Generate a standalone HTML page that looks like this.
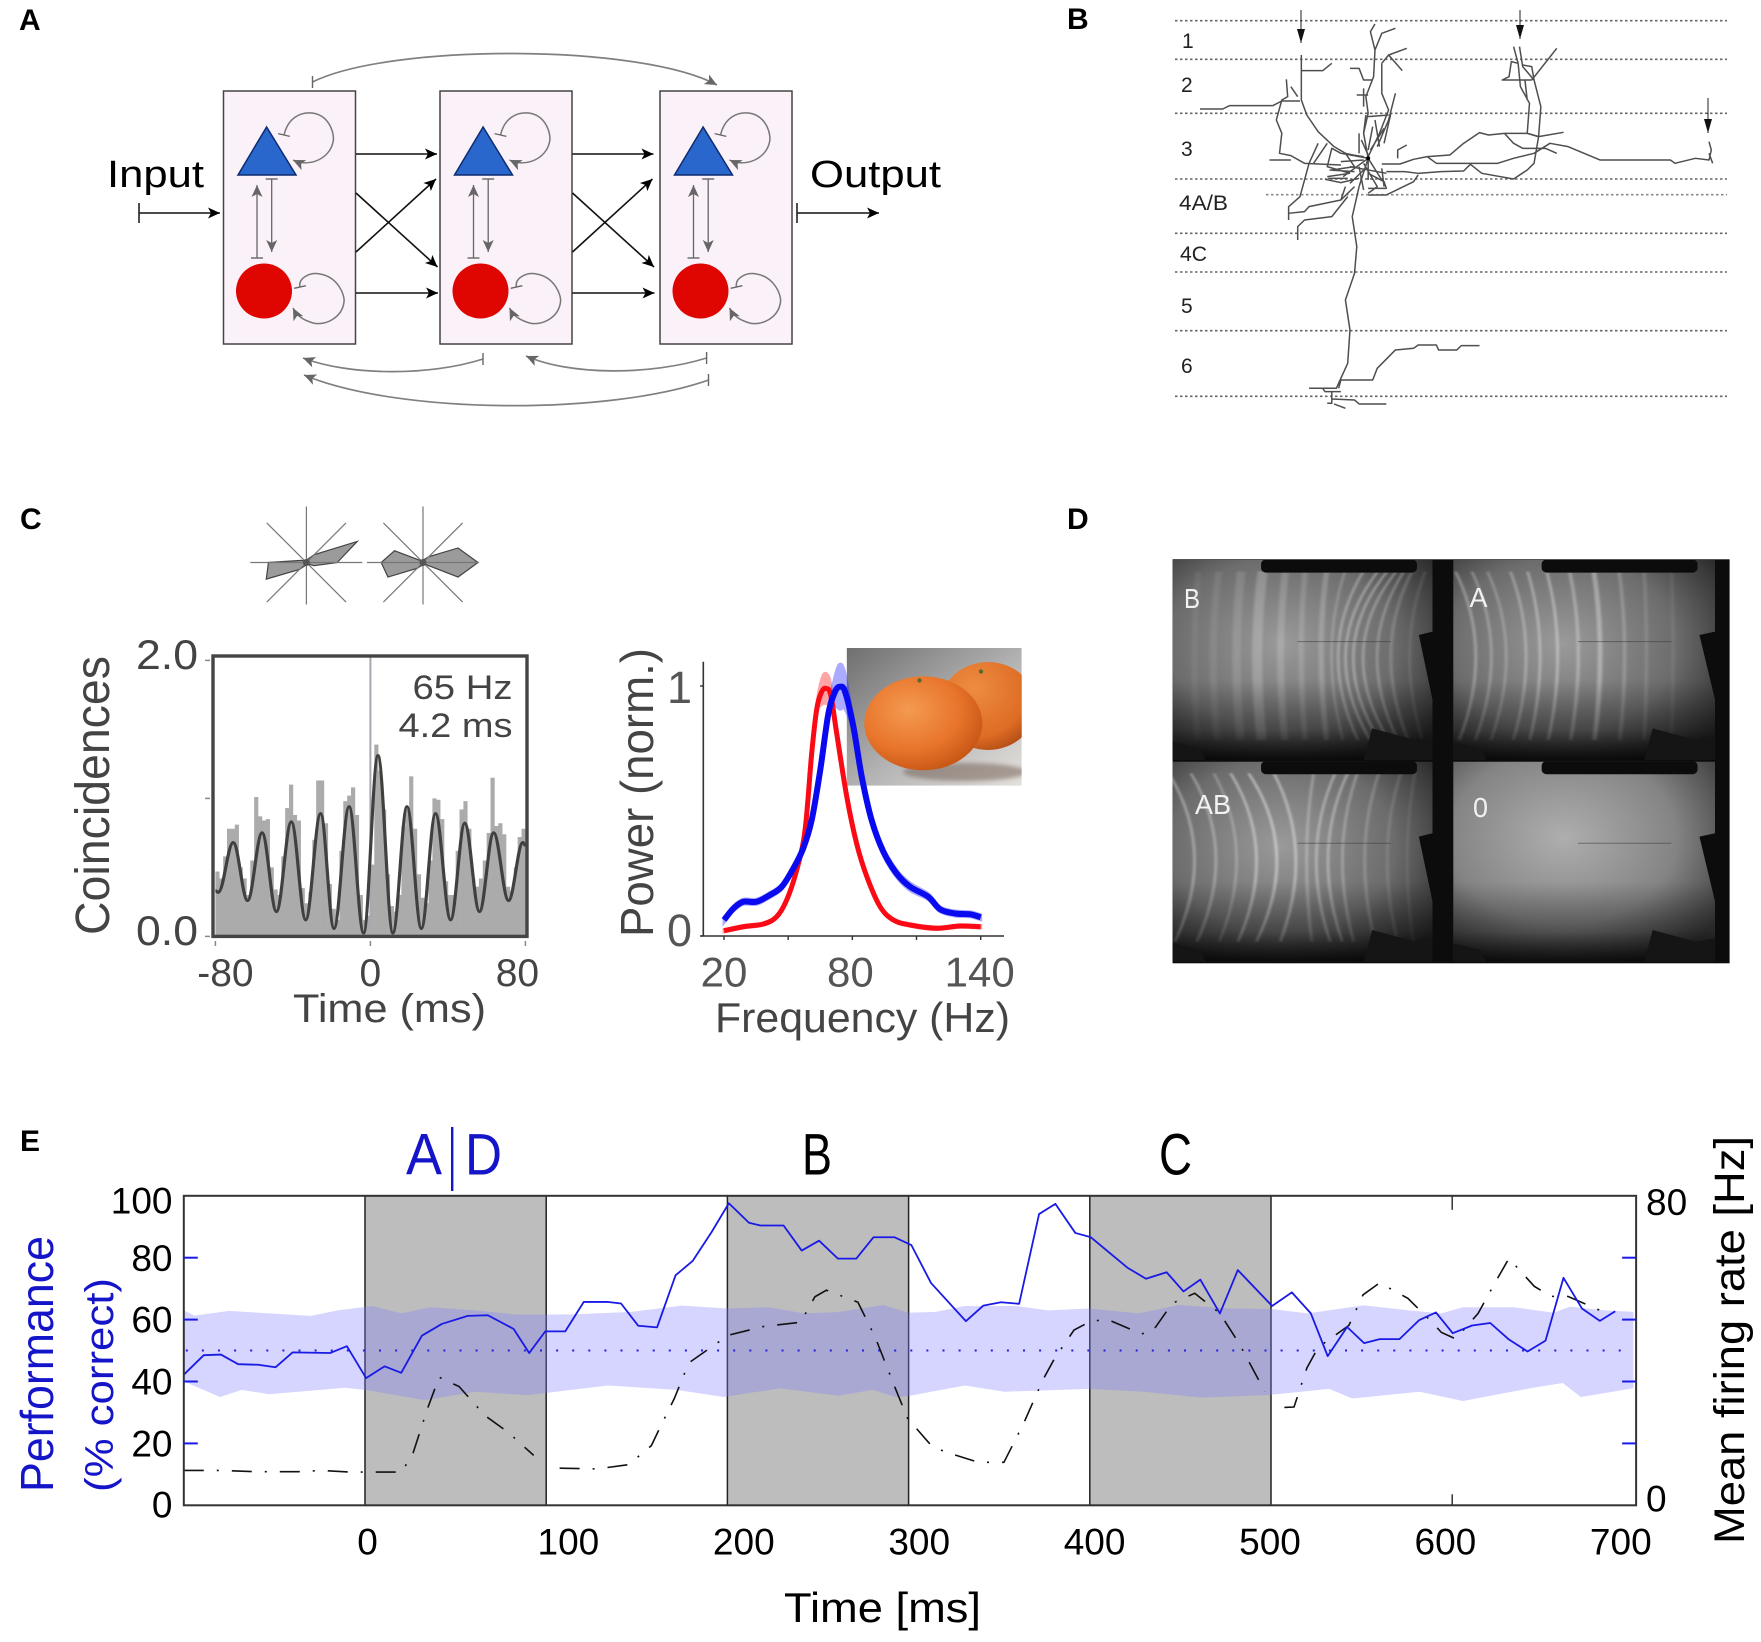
<!DOCTYPE html>
<html lang="en">
<head>
<meta charset="utf-8">
<title>Multi-panel neuroscience figure</title>
<style>
html,body{margin:0;padding:0;background:#fff;}
svg{display:block;font-family:"Liberation Sans",sans-serif;}
</style>
</head>
<body>
<svg id="fig" xmlns="http://www.w3.org/2000/svg" width="1761" height="1642" viewBox="0 0 1761 1642">
<defs>
  <marker id="ah-black" markerUnits="userSpaceOnUse" markerWidth="14" markerHeight="12" refX="12" refY="6" orient="auto"><path d="M0,0.5 L12,6 L0,11.5 L3,6 Z" fill="#000"/></marker>
  <marker id="ah-gray" markerUnits="userSpaceOnUse" markerWidth="14" markerHeight="12" refX="12" refY="6" orient="auto"><path d="M0,0.5 L12,6 L0,11.5 L3,6 Z" fill="#666"/></marker>
  <marker id="tee-gray" markerUnits="userSpaceOnUse" markerWidth="4" markerHeight="14" refX="2" refY="7" orient="auto"><path d="M2,1 L2,13" stroke="#666" stroke-width="1.4"/></marker>
  <marker id="tee-vertical" markerUnits="userSpaceOnUse" markerWidth="4" markerHeight="14" refX="2" refY="7" orient="0"><path d="M2,1 L2,13" stroke="#666" stroke-width="1.4"/></marker>
  <marker id="tee-black" markerUnits="userSpaceOnUse" markerWidth="4" markerHeight="22" refX="2" refY="11" orient="auto"><path d="M2,1 L2,21" stroke="#222" stroke-width="1.6"/></marker>
  <marker id="ah-narrow" markerUnits="userSpaceOnUse" markerWidth="10" markerHeight="16" refX="4" refY="14" orient="0"><path d="M0,0 L8,0 L4,14 Z" fill="#111"/></marker>
  <g id="cell">
    <rect x="223.5" y="91" width="132" height="253" fill="#fbf1f9" stroke="#444" stroke-width="1.5"/>
    <path d="M266.6,127 L296,175 L238,175 Z" fill="#2a67cc" stroke="#0c2c70" stroke-width="1.5"/>
    <ellipse cx="264" cy="291" rx="28" ry="27.5" fill="#df0500"/>
    <path d="M284,135 C288,118 300,112 312,113 C330,115 335,135 333,142 C330,158 310,168 293,160" fill="none" stroke="#777" stroke-width="1.5" marker-start="url(#tee-gray)" marker-end="url(#ah-gray)"/>
    <path d="M300,287 C298,278 310,272 320,274 C338,277 345,295 344,302 C342,318 325,326 313,323 C303,320 297,316 293,308" fill="none" stroke="#777" stroke-width="1.5" marker-start="url(#tee-gray)" marker-end="url(#ah-gray)"/>
    <path d="M257,258 L257,185" fill="none" stroke="#666" stroke-width="1.3" marker-start="url(#tee-gray)" marker-end="url(#ah-gray)"/>
    <path d="M271.7,179 L271.7,252" fill="none" stroke="#666" stroke-width="1.3" marker-start="url(#tee-gray)" marker-end="url(#ah-gray)"/>
  </g>
  <g id="links" fill="none" stroke="#111" stroke-width="1.6">
    <path d="M356,154 L437,154" marker-end="url(#ah-black)"/>
    <path d="M356,293 L438,293" marker-end="url(#ah-black)"/>
    <path d="M356,193 L437.5,267" marker-end="url(#ah-black)"/>
    <path d="M356,252 L436,179" marker-end="url(#ah-black)"/>
  </g>
  <filter id="soft" x="-5%" y="-5%" width="110%" height="110%"><feGaussianBlur stdDeviation="3.2 2.4"/></filter>
  <filter id="softer" x="-20%" y="-20%" width="140%" height="140%"><feGaussianBlur stdDeviation="2"/></filter>
  <filter id="trace-blur" x="-2%" y="-2%" width="104%" height="104%"><feGaussianBlur stdDeviation="0.8 0.9"/></filter>
  <radialGradient id="d-glow" cx="42%" cy="42%" r="72%"><stop offset="0" stop-color="#9a9a9a"/><stop offset=".6" stop-color="#6c6c6c"/><stop offset="1" stop-color="#2a2a2a"/></radialGradient>
  <radialGradient id="d-glow-0" cx="42%" cy="38%" r="72%"><stop offset="0" stop-color="#aeaeae"/><stop offset=".6" stop-color="#848484"/><stop offset="1" stop-color="#3c3c3c"/></radialGradient>
  <linearGradient id="d-fade" x1="0" y1="0" x2="0" y2="1"><stop offset=".6" stop-color="#000" stop-opacity="0"/><stop offset=".85" stop-color="#000" stop-opacity=".35"/><stop offset="1" stop-color="#000" stop-opacity=".85"/></linearGradient>
  <linearGradient id="photo-bg" x1="0" y1="0" x2="1" y2="1"><stop offset="0" stop-color="#6f6f6f"/><stop offset=".55" stop-color="#b5b5b5"/><stop offset="1" stop-color="#e4e0dc"/></linearGradient>
  <radialGradient id="orange-a" cx="38%" cy="36%" r="72%"><stop offset="0" stop-color="#f49a52"/><stop offset=".6" stop-color="#e8742a"/><stop offset="1" stop-color="#c25213"/></radialGradient>
  <radialGradient id="orange-b" cx="35%" cy="30%" r="80%"><stop offset="0" stop-color="#ee8c42"/><stop offset=".7" stop-color="#de6c24"/><stop offset="1" stop-color="#ab4712"/></radialGradient>
  <clipPath id="photo-clip"><rect x="846.7" y="648" width="175" height="137.7"/></clipPath>
  <clipPath id="corr-clip"><rect x="213" y="656" width="314" height="280.4"/></clipPath>
  <clipPath id="d-tl"><rect x="58" y="60" width="667" height="600"/></clipPath>
  <clipPath id="d-tr"><rect x="778" y="60" width="672" height="600"/></clipPath>
  <clipPath id="d-bl"><rect x="58" y="665" width="667" height="600"/></clipPath>
  <clipPath id="d-br"><rect x="778" y="665" width="672" height="600"/></clipPath>
</defs>

<rect width="1761" height="1642" fill="#fff"/>

<!-- Panel labels -->
<g font-weight="700" font-size="30" fill="#000">
  <text x="19" y="30">A</text>
  <text x="1067" y="29">B</text>
  <text x="20" y="529">C</text>
  <text x="1067" y="529">D</text>
  <text x="20" y="1151">E</text>
</g>

<!-- PANEL A -->
<g>
  <use href="#cell"/>
  <use href="#cell" x="216.5"/>
  <use href="#cell" x="436.5"/>
  <use href="#links"/>
  <use href="#links" x="216.5"/>
  <path d="M139,213 L220,213" fill="none" stroke="#111" stroke-width="1.6" marker-start="url(#tee-black)" marker-end="url(#ah-black)"/>
  <path d="M797,213 L879,213" fill="none" stroke="#111" stroke-width="1.6" marker-start="url(#tee-black)" marker-end="url(#ah-black)"/>
  <text x="107" y="187" font-size="38" textLength="97" lengthAdjust="spacingAndGlyphs" fill="#000">Input</text>
  <text x="810" y="187" font-size="38" textLength="131" lengthAdjust="spacingAndGlyphs" fill="#000">Output</text>
  <g fill="none" stroke="#808080" stroke-width="1.7">
    <path d="M312.5,82 C390,43.5 640,43.5 717,85" marker-start="url(#tee-vertical)" marker-end="url(#ah-gray)"/>
    <path d="M483,359 C430,376 350,376 303,358" marker-start="url(#tee-vertical)" marker-end="url(#ah-gray)"/>
    <path d="M706.6,358 C650,375.5 570,375.5 526,356" marker-start="url(#tee-vertical)" marker-end="url(#ah-gray)"/>
    <path d="M708.5,380 C610,415 400,415 304,375" marker-start="url(#tee-vertical)" marker-end="url(#ah-gray)"/>
  </g>
</g>

<!-- PANEL B -->
<g>
  <g stroke="#666" stroke-width="1.6" stroke-dasharray="2.5 2.5">
    <line x1="1175" x2="1727" y1="20.7" y2="20.7"/>
    <line x1="1175" x2="1727" y1="59.3" y2="59.3"/>
    <line x1="1175" x2="1727" y1="113.3" y2="113.3"/>
    <line x1="1175" x2="1727" y1="179" y2="179"/>
    <line x1="1266" x2="1727" y1="194.7" y2="194.7" stroke="#888"/>
    <line x1="1175" x2="1727" y1="233.3" y2="233.3"/>
    <line x1="1175" x2="1727" y1="272" y2="272"/>
    <line x1="1175" x2="1727" y1="330.7" y2="330.7"/>
    <line x1="1175" x2="1727" y1="396.3" y2="396.3"/>
  </g>
  <g font-size="21" fill="#222">
    <text x="1182" y="48">1</text>
    <text x="1181" y="92">2</text>
    <text x="1181" y="156">3</text>
    <text x="1179" y="210" textLength="49" lengthAdjust="spacingAndGlyphs">4A/B</text>
    <text x="1180" y="261" textLength="27" lengthAdjust="spacingAndGlyphs">4C</text>
    <text x="1181" y="313">5</text>
    <text x="1181" y="373">6</text>
  </g>
  <g transform="translate(1050,0) scale(0.4545,0.3333)" fill="none" stroke="#4e4e4e" stroke-width="1.5" stroke-linejoin="round">
    <path vector-effect="non-scaling-stroke" d="M330,327 L380,327 395,317 490,317 510,303 550,303"/>
    <path vector-effect="non-scaling-stroke" d="M553,165 L553,300 565,345 590,395 625,440 650,460 700,475"/>
    <path vector-effect="non-scaling-stroke" d="M553,212 L600,212 620,190"/>
    <path vector-effect="non-scaling-stroke" d="M520,238 L523,290 510,300 498,360 510,400 505,460 530,467 560,490 640,495"/>
    <path vector-effect="non-scaling-stroke" d="M530,260 L545,290 M483,480 L530,480"/>
    <path vector-effect="non-scaling-stroke" d="M700,475 L690,400 700,340 695,290 712,230 715,150 705,95 715,72 M715,150 L730,100 760,85 M730,190 L745,165 785,145 M745,165 L775,212 M660,205 L680,205 690,240 710,240"/>
    <path vector-effect="non-scaling-stroke" d="M730,190 L730,280 745,330 725,400 700,470 M760,280 L745,360 720,440 M675,285 L700,285 M690,265 L690,320 M680,400 L680,460 M700,350 L745,345 M735,385 L705,450 M715,360 L725,440 M695,345 L690,400 M750,340 L735,430 M710,380 L700,450 M685,420 L700,465"/>
    <path vector-effect="non-scaling-stroke" d="M700,475 L640,460 620,445 610,500 660,520 M610,530 L660,520 M605,538 L640,548 680,535 M700,475 L680,560 M700,475 L730,540 M650,460 L670,500 620,510 M690,490 L720,560 700,580 M730,505 L735,560 M700,475 L645,530 M700,475 L700,540 M640,485 L690,480 M660,500 L740,520 M690,510 L660,550 M640,460 L690,470 M615,510 L670,515 M612,535 L655,535 M700,520 L735,545 740,565 700,565 M680,500 L690,570"/>
    <path vector-effect="non-scaling-stroke" d="M670,560 L640,600 570,620 560,635 525,640 M650,560 L640,600 M655,590 L620,650 560,660 545,680 545,720 M590,430 L570,490 550,590 525,620 525,660 M610,430 L580,490"/>
    <path vector-effect="non-scaling-stroke" d="M730,492 L770,492 800,478 830,470 880,465 910,430 945,398 965,405 1000,400 1050,400 1075,410 1130,397"/>
    <path vector-effect="non-scaling-stroke" d="M830,470 L850,490 985,490 1020,475 1065,460 1100,430 1140,440 1210,480 1365,480 1375,490 1420,475 1450,480 1455,450 1450,425 M1450,460 L1458,490"/>
    <path vector-effect="non-scaling-stroke" d="M740,515 L780,515 810,520 860,515 910,513 925,493 950,520 1020,537 1050,510 1065,490 1075,410 1080,320 1065,240 1040,200 1033,140"/>
    <path vector-effect="non-scaling-stroke" d="M700,585 L740,585 770,565 800,545 810,525 M765,475 L765,450 785,435"/>
    <path vector-effect="non-scaling-stroke" d="M1000,400 L1020,430 1040,445 1090,445 1115,460 M1075,410 L1050,400 1055,310 1035,260 1030,190 1015,185 1010,230 995,240 1060,240 M1060,240 L1115,145 M1040,195 L1060,200 1065,240 M1020,140 L1030,190 M1045,240 L1050,300"/>
    <path vector-effect="non-scaling-stroke" d="M680,560 L665,650 675,740 670,820 650,900 660,990 655,1090 635,1150 630,1165 570,1165 M635,1165 L640,1140 710,1140 720,1105 760,1050 800,1045 810,1035 850,1035 855,1050 895,1050 905,1037 945,1037"/>
    <path vector-effect="non-scaling-stroke" d="M600,1165 L605,1175 640,1175 M620,1175 L620,1210 610,1210 M620,1197 L670,1200 680,1212 740,1212 M625,1212 L650,1225"/>
  </g>
  <circle cx="1368.2" cy="158.3" r="2" fill="#000"/>
  <g stroke="#222" stroke-width="1" fill="none">
    <path d="M1301,10 L1301,43" marker-end="url(#ah-narrow)"/>
    <path d="M1520,10 L1520,39" marker-end="url(#ah-narrow)"/>
    <path d="M1708,98 L1708,133" marker-end="url(#ah-narrow)"/>
  </g>
</g>

<!-- PANEL C: polar plots -->
<g id="polar-plots"></g>

<!-- PANEL C: correlogram -->
<g id="correlogram"></g>
<g fill="#444">
  <text x="412.5" y="699" font-size="34" textLength="100" lengthAdjust="spacingAndGlyphs">65 Hz</text>
  <text x="398.5" y="737" font-size="34" textLength="114" lengthAdjust="spacingAndGlyphs">4.2 ms</text>
  <text x="293" y="1022" font-size="40" textLength="193" lengthAdjust="spacingAndGlyphs">Time (ms)</text>
  <text transform="translate(109,935) rotate(-90)" font-size="48" textLength="279" lengthAdjust="spacingAndGlyphs">Coincidences</text>
</g>

<!-- PANEL C: power spectrum -->
<g clip-path="url(#photo-clip)">
  <rect x="846.7" y="648" width="175" height="137.7" fill="url(#photo-bg)"/>
  <ellipse cx="965" cy="772" rx="62" ry="9" fill="#6f5a50" opacity=".5" filter="url(#softer)"/>
  <ellipse cx="988" cy="706" rx="48" ry="44" fill="url(#orange-b)"/>
  <ellipse cx="923.3" cy="723.3" rx="59" ry="47" fill="url(#orange-a)"/>
  <circle cx="919.5" cy="680.5" r="2.2" fill="#5a6a2a"/>
  <circle cx="981" cy="671.5" r="2.2" fill="#5a6a2a"/>
</g>
<g id="spectrum"></g>
<g fill="#555">
  <text x="715" y="1032" font-size="42" textLength="295" lengthAdjust="spacingAndGlyphs" fill="#444">Frequency (Hz)</text>
  <text transform="translate(653,937) rotate(-90)" font-size="46" textLength="289" lengthAdjust="spacingAndGlyphs" fill="#444">Power (norm.)</text>
</g>

<!-- PANEL D -->
<g>
  <rect x="1172.6" y="559.3" width="557" height="404" fill="#0c0c0c"/>
  <g id="d-panels" transform="translate(1150,540) scale(0.3897,0.3333)"></g>
  <g fill="#f2f2f2" font-size="28">
    <text x="1184" y="608" textLength="16" lengthAdjust="spacingAndGlyphs">B</text>
    <text x="1469.5" y="607" textLength="18" lengthAdjust="spacingAndGlyphs">A</text>
    <text x="1195" y="814" textLength="36" lengthAdjust="spacingAndGlyphs">AB</text>
    <text x="1473" y="817" textLength="15" lengthAdjust="spacingAndGlyphs">0</text>
  </g>
</g>

<!-- PANEL E -->
<g id="timeline"></g>
<g font-size="58" fill="#000">
  <text x="406" y="1174.5" fill="#1414c8" textLength="36" lengthAdjust="spacingAndGlyphs">A</text>
  <rect x="451" y="1127" width="2.4" height="64" fill="#1414c8"/>
  <text x="465" y="1174.5" fill="#1414c8" textLength="37" lengthAdjust="spacingAndGlyphs">D</text>
  <text x="802" y="1174.5" textLength="30" lengthAdjust="spacingAndGlyphs">B</text>
  <text x="1159" y="1174.5" textLength="33" lengthAdjust="spacingAndGlyphs">C</text>
</g>
<text transform="translate(53,1492) rotate(-90)" font-size="46" fill="#1414c8" textLength="256" lengthAdjust="spacingAndGlyphs">Performance</text>
<text transform="translate(113,1492) rotate(-90)" font-size="40" fill="#1414c8" textLength="214" lengthAdjust="spacingAndGlyphs">(% correct)</text>
<text transform="translate(1744,1544) rotate(-90)" font-size="43" fill="#000" textLength="408" lengthAdjust="spacingAndGlyphs">Mean firing rate [Hz]</text>
<text x="784" y="1622" font-size="42" fill="#000" textLength="197" lengthAdjust="spacingAndGlyphs">Time [ms]</text>

<script>
// ---------- Panel C polar data ----------
const polarAngles = [0, 22.5, 45, 90, 135, 157.5, 180, 202.5, 225, 270, 315, 337.5];
const polarLeftValues = [0.56, 1, 0.2, 0.04, 0.04, 0.1, 0.69, 0.79, 0.18, 0.04, 0.04, 0.15];
const polarRightValues = [1, 0.69, 0.15, 0.04, 0.04, 0.56, 0.76, 0.69, 0.15, 0.04, 0.04, 0.69];
const spokeAngles = [0, 45, 135];

// ---------- Panel C correlogram data ----------
const binTimes = [-79,-77,-75,-73,-71,-69,-67,-65,-63,-61,-59,-57,-55,-53,-51,-49,-47,-45,-43,-41,-39,-37,-35,-33,-31,-29,-27,-25,-23,-21,-19,-17,-15,-13,-11,-9,-7,-5,-3,-1,1,3,5,7,9,11,13,15,17,19,21,23,25,27,29,31,33,35,37,39,41,43,45,47,49,51,53,55,57,59,61,63,65,67,69,71,73,75,77,79];
const binCounts = [.47,.42,.58,.78,.78,.81,.5,.42,.3,.55,1.01,.87,.84,.85,.5,.34,.3,.58,.93,1.1,.88,.84,.35,.24,.32,.7,1.13,1.13,.82,.38,.2,.12,.62,.98,1.02,1.08,.88,.3,.12,.15,.52,1.39,1.2,.92,.45,.22,.18,.3,.8,.92,1.16,.78,.45,.28,.24,.55,1.0,.99,.85,.4,.3,.3,.62,.92,.98,.78,.42,.36,.42,.55,.75,1.15,.8,.82,.74,.36,.33,.5,.72,.78];
const fitTimes = [-80,-78.5,-70.8,-63.4,-55.9,-48.5,-40.8,-33.4,-25.7,-18.8,-11,-3.5,3.9,11.6,18.9,26.3,33.6,41.4,48.7,56.3,63.6,71.3,78.7,80];
const fitValues = [.33,.32,.68,.26,.75,.18,.83,.12,.89,.057,.94,.025,1.31,.025,.94,.057,.89,.12,.82,.18,.75,.26,.68,.66];
const corrXTicks = [-80, 0, 80];
const corrXLabels = ['-80', '0', '80'];
const corrYTicks = [0, 1, 2];
const corrYLabels = ['0.0', '', '2.0'];

// ---------- Panel C spectrum data ----------
const blueFreq = [20,24.4,29,35.2,41.5,47,52.4,57,61,65,68.8,71.9,74.2,76.6,80.5,84.4,89,94.5,100.7,107,115.5,121,128,135,140];
const bluePower = [.064,.11,.137,.137,.164,.197,.27,.35,.464,.664,.89,.977,.997,.977,.837,.637,.464,.337,.25,.197,.157,.107,.09,.087,.075];
const blueError = [.01,.01,.01,.01,.01,.01,.01,.01,.01,.01,.02,.06,.09,.07,.02,.01,.01,.015,.015,.015,.012,.01,.01,.01,.01];
const redFreq = [20,29,38.4,44.6,49.3,54,57.9,61,63.4,65.7,67.7,69.9,72.7,77.4,82,86.8,93,99.2,107,119.4,130.3,140];
const redPower = [.021,.037,.048,.077,.144,.264,.424,.731,.91,.977,.99,.964,.81,.557,.37,.237,.117,.064,.044,.031,.04,.037];
const redError = [.005,.005,.005,.005,.005,.005,.01,.01,.02,.05,.06,.04,.01,.005,.005,.005,.005,.005,.005,.005,.005,.005];
const specXTicks = [20, 50, 80, 110, 140];
const specXLabels = ['20', '', '80', '', '140'];
const specYTicks = [0, 1];
const specYLabels = ['0', '1'];

// ---------- Panel E data ----------
const epochStarts = [0, 200, 400];
const epochLength = 100;
const perfTimes = [-100,-89,-79.5,-70,-59,-49.4,-40,-19.3,-10,.6,10.8,20,31.4,42.4,56.7,67.8,82,90.6,99.5,110.5,120.7,134.3,141.3,150.8,161.2,171.4,180.9,191.3,200.8,211.9,218.2,231,241,250.6,261,271.1,280.6,292.3,301.5,312.4,331.6,341.2,351,361,372,381,392,400.6,420.7,431,442.4,451.7,461,471.8,481.7,500.6,511.5,522,531.3,542,551.4,560,570.9,581.7,591,600.3,611,621,631,641.6,651.5,661.4,671.6,681.5,690];
const perfValues = [42.2,48.5,48.7,45.6,45.4,44.6,49.4,49.2,51.4,41.1,44.9,42.8,54.8,58.6,61.2,61.4,57,49.2,56.2,56.2,65.7,65.7,65.2,58,57.5,74.3,79,88.3,97.6,91.3,90.4,90.4,82.3,85.5,79.7,79.7,86.6,86.6,84.1,71.8,59.5,64.5,65.6,65.1,94.1,97.4,88,86.6,76.8,73.2,75.3,69.1,72.9,62,76,64.4,68.8,62,48.2,57.6,52.4,53.7,53.7,59.8,62.3,55.6,58.1,58.9,53.7,49.7,53.2,73.5,63.6,59.6,62.7];
const rateSegmentOneTimes = [-100,-79.5,-60.5,-36.7,-24,-8.2,20.3,26.6,34.5,40.9,51.9,66.2,78.9,93.1];
const rateSegmentOneHz = [9,9,8.7,8.7,9,8.6,8.6,13.6,25,33.1,30.7,23.2,18.9,12.9];
const rateSegmentTwoTimes = [107.4,128,145.4,158,162.8,170.7,178.7,194.5,200.8,219.8,240.4,248.3,254.7,272,281.6,292.7,299.4,312.4,320.1,338.7,352.6,363.5,374.3,380.5,391.3,400.6,409.9,428.5,434.7,445.5,457.9,471.8,482.7,496.6];
const rateSegmentTwoHz = [9.6,9.4,10.5,15.4,20.1,27.6,36.8,42,44,46.2,47.3,53.9,55.6,52.5,43.4,30.2,22.5,15.5,13.8,11.1,11.1,21.2,32.6,37.9,45.3,47.6,48,44.3,45,52.2,54.8,49.6,41.6,29.4];
const rateSegmentThreeTimes = [507.4,512.7,519.8,526,543,550.8,560,575.5,587.9,594,601.9,614.3,623.6,631.3,645.3,654.6,663.9,680.9,685.5];
const rateSegmentThreeHz = [25.3,25.4,35.5,40.8,46.5,54.4,57.5,53.5,47.8,44.7,43,49.6,57.5,63.8,56.6,54,54,50.5,47.8];
const bandUpperTimes = [-100,-94,-75,-53,-30,-15,4,20,36,61,84,115,147,175,200,223,242,261,286,300,315,331,359,377,400,427,449,476,501,520,551,576,594,606,634,656,665,684,700];
const bandUpperValues = [63,61.3,62.8,62,61.2,63,64.4,62,64,63,61.6,61.7,62.5,64.5,63.6,64,62,62.4,64.7,62.2,62.5,64.4,64.4,63,63.6,62,64.7,63.6,63.4,62,64.6,63,62,64,64,62.2,64.2,63,62.5];
const bandLowerTimes = [-100,-80,-68,-53,-11,1,33,61,90,134,172,198,229,261,280,293,300,331,353,400,430,461,498,532,545,582,606,641,661,671,700];
const bandLowerValues = [40,35,37.3,35.9,38,37.2,34,36.7,35.6,38.7,37.3,35,37.8,35.4,37.3,35,35.3,38.7,36.7,37.6,36.7,34.8,35.6,37.6,34.5,36.7,33.7,37.6,39.5,35,37.8];
const chanceLevel = 50;
const timeTicks = [0, 100, 200, 300, 400, 500, 600, 700];
const timeLabels = ['0', '100', '200', '300', '400', '500', '600', '700'];
const perfTicks = [0, 20, 40, 60, 80, 100];
const perfLabels = ['0', '20', '40', '60', '80', '100'];
const rateTicks = [0, 80];
const rateLabels = ['0', '80'];
const innerBlueTicks = [20, 40, 60, 80];
const innerBlackTimeTicks = [600];

// ---------- helpers ----------
const NS = 'http://www.w3.org/2000/svg';
function mk(parent, tag, attrs, txt) {
  const el = document.createElementNS(NS, tag);
  for (const k in attrs) el.setAttribute(k, attrs[k]);
  if (txt !== undefined) el.textContent = txt;
  parent.appendChild(el);
  return el;
}
function catmull(pts) {
  let d = 'M' + pts[0][0] + ',' + pts[0][1];
  for (let i = 0; i < pts.length - 1; i++) {
    const p0 = pts[Math.max(0, i - 1)], p1 = pts[i], p2 = pts[i + 1], p3 = pts[Math.min(pts.length - 1, i + 2)];
    const c1x = p1[0] + (p2[0] - p0[0]) / 6, c1y = p1[1] + (p2[1] - p0[1]) / 6;
    const c2x = p2[0] - (p3[0] - p1[0]) / 6, c2y = p2[1] - (p3[1] - p1[1]) / 6;
    d += ' C' + c1x + ',' + c1y + ' ' + c2x + ',' + c2y + ' ' + p2[0] + ',' + p2[1];
  }
  return d;
}
function polyline(xs, ys, fx, fy) {
  return xs.map((x, i) => (i ? 'L' : 'M') + fx(x) + ',' + fy(ys[i])).join(' ');
}

// ---------- polar plots ----------
(function () {
  const g = document.getElementById('polar-plots');
  const polarR = v => v * 55;
  const centers = [[306.4, 562.5], [423, 562.5]];
  const series = [polarLeftValues, polarRightValues];
  const spokeLen = 56;
  centers.forEach((c, ci) => {
    const pts = polarAngles.map((a, i) => {
      const r = polarR(series[ci][i]);
      const t = a * Math.PI / 180;
      return (c[0] + r * Math.cos(t)) + ',' + (c[1] - r * Math.sin(t));
    }).join(' ');
    const poly = mk(g, 'polygon', { points: pts, fill: '#9b9b9b', stroke: '#444', 'stroke-width': 1.2 });
    
    
    spokeAngles.forEach(a => {
      const t = a * Math.PI / 180;
      const ln = mk(g, 'line', {
        x1: c[0] - spokeLen * Math.cos(t), y1: c[1] + spokeLen * Math.sin(t),
        x2: c[0] + spokeLen * Math.cos(t), y2: c[1] - spokeLen * Math.sin(t),
        stroke: '#777', 'stroke-width': 1.2
      });
      
      
    });
    const vert = mk(g, 'line', { x1: c[0], x2: c[0], y1: c[1] - 56, y2: c[1] + 42, stroke: '#777', 'stroke-width': 1.2 });
    
    
    const hub = mk(g, 'circle', { cx: c[0], cy: c[1], r: 3.5, fill: '#555' });
    
    
  });
})();

// ---------- correlogram ----------
(function () {
  const g = document.getElementById('correlogram');
  const x = t => 370.4 + t * 1.9375;
  const y = v => 936.4 - v * 138;
  const clip = mk(g, 'g', { 'clip-path': 'url(#corr-clip)' });
  
  
  binTimes.forEach((t, i) => {
    const r = mk(clip, 'rect', { x: x(t - 1), y: y(binCounts[i]), width: x(t + 1) - x(t - 1) + .3, height: y(0) - y(binCounts[i]), fill: '#ababab' });
    
    
  });
  const zero = mk(clip, 'line', { x1: x(0), x2: x(0), y1: 656, y2: 936, stroke: '#a8a8b0', 'stroke-width': 2 });
  
  
  // smooth fit: horizontal tangents at the read extrema
  let d = 'M' + x(fitTimes[0]) + ',' + y(fitValues[0]);
  for (let i = 0; i < fitTimes.length - 1; i++) {
    const x0 = x(fitTimes[i]), x1 = x(fitTimes[i + 1]), h = (x1 - x0) * .36;
    d += ' C' + (x0 + h) + ',' + y(fitValues[i]) + ' ' + (x1 - h) + ',' + y(fitValues[i + 1]) + ' ' + x1 + ',' + y(fitValues[i + 1]);
  }
  const fit = mk(clip, 'path', { d: d, fill: 'none', stroke: '#404040', 'stroke-width': 3.2 });
  
  
  const box = mk(g, 'rect', { x: 213, y: 656, width: 314, height: 280.4, fill: 'none', stroke: '#444', 'stroke-width': 3.4 });
  
  
  corrYTicks.forEach((v, i) => {
    const tk = mk(g, 'line', { x1: 205, x2: 210, y1: y(v), y2: y(v), stroke: '#888', 'stroke-width': 1.5 });
    
    
    if (corrYLabels[i]) {
      const tx = mk(g, 'text', { x: 198, y: y(v) + 8.5, 'text-anchor': 'end', 'font-size': 42, fill: '#444', textLength: 62, lengthAdjust: 'spacingAndGlyphs' }, corrYLabels[i]);
      
      
    }
  });
  corrXTicks.forEach((v, i) => {
    const tk = mk(g, 'line', { x1: x(v), x2: x(v), y1: 941, y2: 946, stroke: '#888', 'stroke-width': 1.5 });
    
    
    const tx = mk(g, 'text', { x: x(v) + (v < 0 ? 10 : v > 0 ? -8 : 0), y: 986, 'text-anchor': 'middle', 'font-size': 39, fill: '#444' }, corrXLabels[i]);
    
    
  });
})();

// ---------- spectrum ----------
(function () {
  const g = document.getElementById('spectrum');
  const x = f => 724 + (f - 20) * 2.139;
  const y = v => 936 - v * 250;
  const drawBand = (xs, ys, es, color) => {
    const up = catmull(xs.map((f, i) => [x(f), y(ys[i] + es[i])]));
    const rxs = xs.slice().reverse(), rys = ys.slice().reverse(), res = es.slice().reverse();
    const lo = catmull(rxs.map((f, i) => [x(f), y(rys[i] - res[i])]));
    const b = mk(g, 'path', { d: up + ' L' + lo.slice(1) + ' Z', fill: color, opacity: .4, stroke: color, 'stroke-width': 3 });
    
    
  };
  drawBand(redFreq, redPower, redError, '#ff2020');
  drawBand(blueFreq, bluePower, blueError, '#3030ff');
  const red = mk(g, 'path', { d: catmull(redFreq.map((f, i) => [x(f), y(redPower[i])])), fill: 'none', stroke: '#fa0a14', 'stroke-width': 5 });
  
  
  const blue = mk(g, 'path', { d: catmull(blueFreq.map((f, i) => [x(f), y(bluePower[i])])), fill: 'none', stroke: '#0a0af0', 'stroke-width': 6 });
  
  
  const ya = mk(g, 'line', { x1: 703.3, x2: 703.3, y1: 661.7, y2: 936, stroke: '#333', 'stroke-width': 1.6 });
  
  
  const xa = mk(g, 'line', { x1: 701, x2: 1004, y1: 936, y2: 936, stroke: '#333', 'stroke-width': 1.6 });
  
  
  specXTicks.forEach((v, i) => {
    const tk = mk(g, 'line', { x1: x(v), x2: x(v), y1: 936, y2: 940, stroke: '#333', 'stroke-width': 1.4 });
    
    
    if (specXLabels[i]) {
      const tx = mk(g, 'text', { x: x(v) + (v === 140 ? -1 : v === 80 ? -2 : 0), y: 986.5, 'text-anchor': 'middle', 'font-size': 42, fill: '#555' }, specXLabels[i]);
      
      
    }
  });
  specYTicks.forEach((v, i) => {
    const tk = mk(g, 'line', { x1: 700, x2: 703, y1: y(v), y2: y(v), stroke: '#333', 'stroke-width': 1.4 });
    
    
    const tx = mk(g, 'text', { x: 692, y: y(v) + (v ? 17 : 10), 'text-anchor': 'end', 'font-size': 45, fill: '#555' }, specYLabels[i]);
    
    
  });
})();

// ---------- imaging panels (texture only) ----------
(function () {
  const root = document.getElementById('d-panels');
  // each panel: origin, clip, gradient, streak list [x, bow, lean, opacity, width]
  const panels = [
    { name: 'imaging-panel-b', ox: 58, oy: 60, w: 667, clip: 'd-tl', grad: 'd-glow', streaks: [[60,-4,6,.06,16],[110,-6,8,.08,18],[170,-6,6,.12,22],[225,-8,6,.2,26],[285,-8,4,.16,18],[340,-10,0,.14,14],[395,-14,0,.2,14],[430,-22,12,.28,5],[455,-30,34,.42,5],[478,-34,48,.45,5],[500,-36,50,.45,5],[525,-36,48,.4,5],[555,-30,38,.35,5],[590,-30,24,.2,7],[630,-22,18,.12,6]] },
    { name: 'imaging-panel-a', ox: 778, oy: 60, w: 672, clip: 'd-tr', grad: 'd-glow', streaks: [[30,28,-24,.38,6],[70,28,-22,.32,6],[110,26,-22,.32,5],[165,22,-18,.36,6],[205,18,-14,.42,6],[250,18,-10,.45,6],[305,16,-6,.32,8],[365,12,-4,.34,12],[430,10,-4,.22,8],[490,6,0,.14,8],[560,4,0,.08,8]] },
    { name: 'imaging-panel-ab', ox: 58, oy: 665, w: 667, clip: 'd-bl', grad: 'd-glow', streaks: [[30,26,-40,.42,6],[85,26,-38,.38,6],[140,24,-34,.34,5],[195,20,-46,.5,6],[245,22,-50,.55,6],[300,16,-40,.5,6],[350,-6,12,.34,6],[385,-16,32,.5,5],[415,-16,34,.5,5],[450,-14,24,.38,5],[505,-12,24,.25,6],[565,-14,20,.16,6],[610,-8,12,.12,5]] },
    { name: 'imaging-panel-0', ox: 778, oy: 665, w: 672, clip: 'd-br', grad: 'd-glow-0', streaks: [] }
  ];
  panels.forEach(p => {
    const g = mk(root, 'g', { 'clip-path': 'url(#' + p.clip + ')' });
    
    
    mk(g, 'rect', { x: p.ox, y: p.oy, width: p.w, height: 600, fill: 'url(#' + p.grad + ')' });
    const s = mk(g, 'g', { filter: 'url(#soft)', fill: 'none' });
    p.streaks.forEach(st => {
      const x0 = p.ox + st[0];
      const top = x0 + st[2], mid = x0 + st[1], bot = x0 + st[2] * .6;
      mk(s, 'path', {
        d: 'M' + top + ',' + (p.oy + 35) + ' Q' + (2 * mid - (top + bot) / 2) + ',' + (p.oy + 270) + ' ' + bot + ',' + (p.oy + 540),
        stroke: '#fff', 'stroke-width': st[4], 'stroke-opacity': st[3]
      });
    });
    mk(g, 'rect', { x: p.ox, y: p.oy, width: p.w, height: 600, fill: 'url(#d-fade)' });
    // black frame cut-outs
    const o = (a, b) => (p.ox + a) + ',' + (p.oy + b);
    mk(g, 'rect', { x: p.ox + 227, y: p.oy - 2, width: 400, height: 40, rx: 14, fill: '#0c0c0c' });
    mk(g, 'polygon', { points: [o(632, 225), o(p.w, 215), o(p.w, 420)].join(' '), fill: '#0c0c0c' });
    mk(g, 'polygon', { points: [o(512, 505), o(622, 540), o(p.w, 530), o(p.w, 600), o(490, 600)].join(' '), fill: '#151515' });
    mk(g, 'polygon', { points: [o(0, 545), o(70, 565), o(85, 600), o(0, 600)].join(' '), fill: '#151515' });
    mk(g, 'line', { x1: p.ox + 320, x2: p.ox + 560, y1: p.oy + 245, y2: p.oy + 245, stroke: '#333', 'stroke-width': 3, opacity: .5 });
  });
})();

// ---------- timeline ----------
(function () {
  const g = document.getElementById('timeline');
  const x = t => 365 + t * 1.812;
  const y = v => 1505.3 - v * 3.095;
  const yRate = hz => 1505.3 - hz * 3.869;
  const labelX = t => t === 0 ? x(0) + 2.5 : 393 + t * 1.754;
  const plotL = x(-100), plotR = x(701.5), plotT = y(100), plotB = y(0);
  const bgr = mk(g, 'rect', { x: plotL, y: plotT, width: plotR - plotL, height: plotB - plotT, fill: '#fff' });
  
  
  epochStarts.forEach(t => {
    const r = mk(g, 'rect', { x: x(t), y: plotT, width: x(t + epochLength) - x(t), height: plotB - plotT, fill: '#bdbdbd', stroke: '#222', 'stroke-width': 1.5 });
    
    
  });
  const up = bandUpperTimes.map((t, i) => x(t) + ',' + y(bandUpperValues[i]));
  const lo = bandLowerTimes.map((t, i) => x(t) + ',' + y(bandLowerValues[i])).reverse();
  const band = mk(g, 'polygon', { points: up.concat(lo).join(' '), fill: '#8080ff', 'fill-opacity': .33 });
  
  
  const chance = mk(g, 'line', { x1: plotL + 2, x2: x(695), y1: y(chanceLevel), y2: y(chanceLevel), stroke: '#2020e0', 'stroke-width': 2, 'stroke-dasharray': '2 14.1' });
  
  
  const segs = [[rateSegmentOneTimes, rateSegmentOneHz], [rateSegmentTwoTimes, rateSegmentTwoHz], [rateSegmentThreeTimes, rateSegmentThreeHz]];
  segs.forEach(s => {
    const p = mk(g, 'path', { d: polyline(s[0], s[1], x, yRate), fill: 'none', stroke: '#111', 'stroke-width': 1.6, 'stroke-dasharray': '20 13 2 13' });
    
    
  });
  const perf = mk(g, 'path', { d: polyline(perfTimes, perfValues, x, y), fill: 'none', stroke: '#1a1ae6', 'stroke-width': 1.8, 'stroke-linejoin': 'round' });
  
  
  const frame = mk(g, 'rect', { x: plotL, y: plotT, width: plotR - plotL, height: plotB - plotT, fill: 'none', stroke: '#333', 'stroke-width': 2 });
  
  
  innerBlueTicks.forEach(v => {
    const a = mk(g, 'line', { x1: plotL, x2: plotL + 14, y1: y(v), y2: y(v), stroke: '#1a1ae6', 'stroke-width': 2 });
    
    
    const b = mk(g, 'line', { x1: plotR - 14, x2: plotR, y1: y(v), y2: y(v), stroke: '#1a1ae6', 'stroke-width': 2 });
    
    
  });
  innerBlackTimeTicks.forEach(t => {
    const a = mk(g, 'line', { x1: x(t), x2: x(t), y1: plotT, y2: plotT + 14, stroke: '#333', 'stroke-width': 1.5 });
    
    
    const b = mk(g, 'line', { x1: x(t), x2: x(t), y1: plotB - 11, y2: plotB, stroke: '#333', 'stroke-width': 1.5 });
    
    
  });
  timeTicks.forEach((t, i) => {
    const tx = mk(g, 'text', { x: labelX(t), y: 1554.5, 'text-anchor': 'middle', 'font-size': 37, fill: '#000' }, timeLabels[i]);
    
    
  });
  perfTicks.forEach((v, i) => {
    const tx = mk(g, 'text', { x: 172.5, y: y(v) + (v === 100 ? 17.5 : v === 0 ? 12 : 13 - (v === 80 ? -0.3 : 0)), 'text-anchor': 'end', 'font-size': 37, fill: '#000' }, perfLabels[i]);
    
    
  });
  rateTicks.forEach((v, i) => {
    const tx = mk(g, 'text', { x: 1646, y: yRate(v) + (v ? 19 : 6), 'font-size': 37, fill: '#000' }, rateLabels[i]);
    
    
  });
})();
</script>
</svg>
</body>
</html>
